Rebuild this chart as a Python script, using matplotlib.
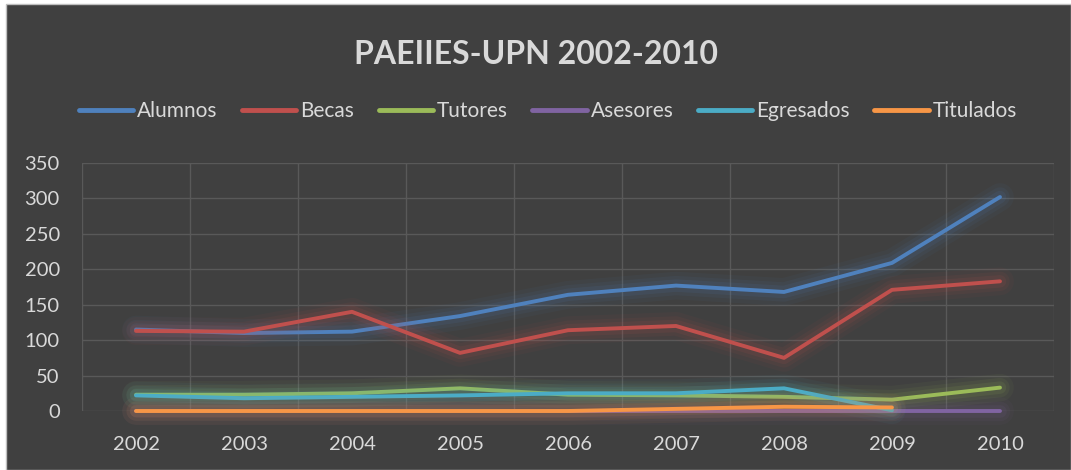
import numpy as np
import matplotlib
matplotlib.use('Agg')
import matplotlib.pyplot as plt
from matplotlib.patches import Rectangle

plt.rcParams['font.family'] = ['Lato', 'DejaVu Sans']

years = ['2002', '2003', '2004', '2005', '2006', '2007', '2008', '2009', '2010']
alumnos = [115, 110, 112, 134, 164, 177, 168, 209, 302]
becas = [113, 112, 140, 82, 114, 120, 75, 171, 183]
tutores = [23, 23, 25, 32, 23, 22, 20, 16, 33]
asesores = [0, 0, 0, 0, 0, 0, 0, 0, 0]
egresados = [22, 18, 20, 22, 25, 25, 32, 1, np.nan]
titulados = [0, 0, 0, 0, 0, 3, 6, 5, np.nan]

series = [
    ('Alumnos', alumnos, '#4F81BD'),
    ('Becas', becas, '#C0504D'),
    ('Tutores', tutores, '#9BBB59'),
    ('Asesores', asesores, '#8064A2'),
    ('Egresados', egresados, '#4BACC6'),
    ('Titulados', titulados, '#F79646'),
]

bg = '#404040'
txt = '#D9D9D9'

fig = plt.figure(figsize=(10.71, 4.70), dpi=100, facecolor='white')
# dark chart area with thin light border (white margin on top/left)
fig.patches.append(Rectangle((6 / 1071, 0), 1 - 6 / 1071, 1 - 4 / 470,
                             transform=fig.transFigure, facecolor=bg,
                             edgecolor='#BFBFBF', linewidth=1, zorder=-5))

ax = fig.add_axes([82 / 1071, 1 - 411 / 470, 972 / 1071, 248 / 470])
ax.set_zorder(2)
ax.set_facecolor(bg)
x = np.arange(len(years))

for name, vals, col in series:
    v = np.array(vals, dtype=float)
    # soft glow
    for lw, a in [(20, 0.05), (14, 0.07), (9, 0.10)]:
        ax.plot(x, v, color=col, lw=lw, alpha=a, solid_capstyle='round',
                solid_joinstyle='round', clip_on=False)
    ax.plot(x, v, color=col, lw=2.8, label=name, solid_capstyle='round',
            solid_joinstyle='round', clip_on=False)

ax.set_xlim(-0.5, len(years) - 0.5)
ax.set_ylim(0, 350)
ax.set_yticks(np.arange(0, 351, 50))
ax.set_xticks(x)
ax.set_xticklabels(years)
ax.set_xticks(np.arange(-0.5, len(years), 1), minor=True)
ax.grid(True, which='minor', axis='x', color='#595959', lw=1)
ax.grid(True, which='major', axis='y', color='#595959', lw=1)
ax.set_axisbelow(True)
for s in ax.spines.values():
    s.set_visible(False)
ax.tick_params(axis='both', which='both', length=0, colors=txt, labelsize=14.5)
ax.tick_params(axis='y', pad=16)
ax.tick_params(axis='x', pad=18)

fig.text(0.5, 1 - 54 / 470, 'PAEIIES-UPN 2002-2010', color=txt, fontsize=23,
         fontweight='bold', ha='center', va='center')

handles, labels = ax.get_legend_handles_labels()
leg = fig.legend(handles, labels, loc='center', ncol=6,
                 bbox_to_anchor=(548 / 1071, 1 - 111 / 470), frameon=False,
                 fontsize=15, handlelength=2.6, handletextpad=0.2,
                 columnspacing=1.17, labelcolor=txt)
for h in leg.get_lines():
    h.set_linewidth(3.5)

fig.savefig('out.png', dpi=100, facecolor='white')
